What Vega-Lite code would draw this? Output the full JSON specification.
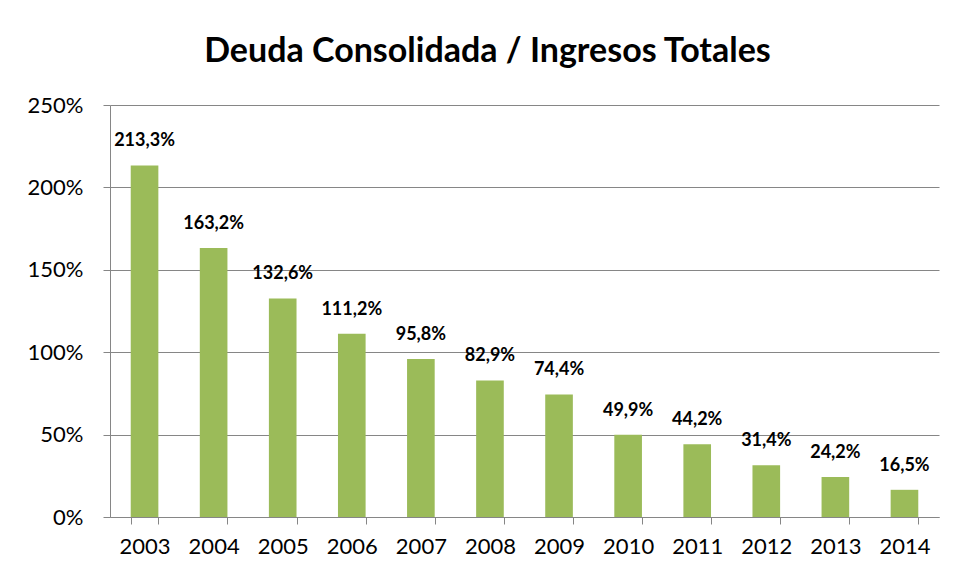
{
  "$schema": "https://vega.github.io/schema/vega-lite/v6.json",
  "autosize": "none",
  "width": 829,
  "height": 412,
  "padding": {"left": 110, "top": 105, "right": 17, "bottom": 61},
  "background": "white",
  "title": {"text": "Deuda Consolidada / Ingresos Totales", "font": "Lato", "fontSize": 34, "fontWeight": "bold", "color": "black", "anchor": "middle", "offset": 25, "dx": -37},
  "config": {
    "locale": {"number": {"decimal": ",", "thousands": ".", "grouping": [3], "currency": ["", " €"]}},
    "view": {"stroke": null},
    "font": "Lato"
  },
  "data": {"values": [
    {"year": "2003", "ratio": 2.133},
    {"year": "2004", "ratio": 1.632},
    {"year": "2005", "ratio": 1.326},
    {"year": "2006", "ratio": 1.112},
    {"year": "2007", "ratio": 0.958},
    {"year": "2008", "ratio": 0.829},
    {"year": "2009", "ratio": 0.744},
    {"year": "2010", "ratio": 0.499},
    {"year": "2011", "ratio": 0.442},
    {"year": "2012", "ratio": 0.314},
    {"year": "2013", "ratio": 0.242},
    {"year": "2014", "ratio": 0.165}
  ]},
  "encoding": {
    "x": {"field": "year", "type": "nominal", "title": null,
      "scale": {"paddingInner": 0.6, "paddingOuter": 0.3},
      "axis": {"labelAngle": 0, "labelFontSize": 22, "labelColor": "black", "labelPadding": 12, "domainColor": "#868686", "tickColor": "#868686", "tickSize": 7, "tickBand": "extent", "grid": false}},
    "y": {"field": "ratio", "type": "quantitative", "title": null,
      "scale": {"domain": [0, 2.5]},
      "axis": {"format": ".0%", "values": [0, 0.5, 1, 1.5, 2, 2.5], "labelFontSize": 22, "labelColor": "black", "labelPadding": 20, "domainColor": "#868686", "tickColor": "#868686", "tickSize": 7, "gridColor": "#868686", "gridWidth": 1}}
  },
  "layer": [
    {"mark": {"type": "bar", "color": "#9BBB59"}},
    {"mark": {"type": "text", "dy": -24, "fontSize": 18, "fontWeight": "bold", "color": "black"},
     "encoding": {"text": {"field": "ratio", "type": "quantitative", "format": ".1%"}}}
  ]
}
